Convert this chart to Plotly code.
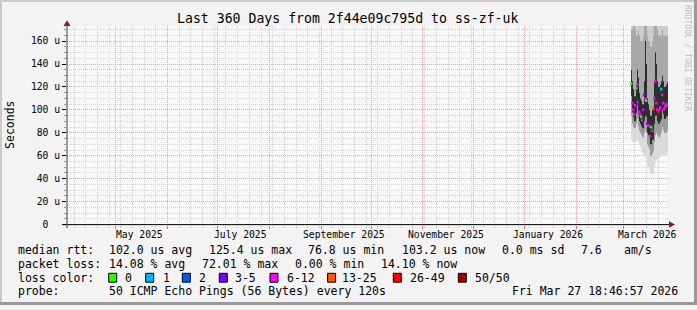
import plotly.graph_objects as go
import pandas as pd

W, H = 697, 310
END = pd.Timestamp('2026-03-27 18:46:57')
START = END - pd.Timedelta(days=360)

# ---- data (values in microseconds) ----
first_time = pd.Timestamp('2026-03-05 16:00')
STEP_S = 51840  # 14.4 h consolidated step
median  = [123, 106, 100, 96, 104, 119, 122, 105, 98, 96, 94, 91, 100, 113, 110, 108, 88, 86, 86, 77,
           85, 82, 101, 110, 125, 106, 100, 98, 100, 102, 118, 113, 106, 101, 103, 105, 104]
loss    = [0, 8, 8, 9, 8, 0, 7, 4, 8, 7, 0, 9, 8, 4, 8, 0, 4, 8, 10, 9,
           0, 10, 15, 8, 9, 9, 8, 30, 8, 9, 1, 8, 8, 9, 8, 7, 8]
ping_lo = [74, 72, 73, 72, 73, 75, 74, 72, 70, 68, 66, 63, 62, 60, 58, 57, 52, 50, 48, 45,
           44, 46, 50, 54, 56, 57, 58, 58, 59, 60, 62, 62, 61, 60, 61, 62, 62]
ping_q1 = [95, 88, 85, 84, 88, 92, 93, 86, 82, 80, 78, 76, 80, 85, 82, 80, 70, 68, 66, 60,
           62, 64, 72, 78, 85, 80, 78, 76, 78, 80, 88, 85, 82, 80, 80, 82, 82]
ping_d1 = [112, 98, 94, 90, 97, 108, 110, 96, 90, 88, 86, 84, 90, 100, 95, 94, 80, 78, 76, 70,
           74, 74, 88, 95, 105, 95, 90, 88, 90, 92, 105, 100, 96, 92, 94, 95, 95]
ping_d2 = [135, 125, 118, 112, 122, 135, 140, 128, 115, 110, 108, 105, 125, 175, 160, 140, 110, 105, 100, 95,
           100, 100, 125, 150, 178, 140, 125, 120, 122, 125, 135, 130, 125, 120, 122, 124, 124]
ping_q2 = [170, 175, 180, 180, 170, 165, 170, 175, 165, 160, 160, 165, 180, 190, 190, 180, 165, 160, 160, 155,
           160, 165, 175, 185, 190, 180, 170, 165, 165, 165, 170, 170, 165, 165, 165, 165, 165]
ping_hi = [240, 240, 240, 240, 240, 230, 230, 240, 230, 230, 230, 230, 240, 250, 250, 240, 230, 230, 230, 220,
           230, 230, 240, 250, 250, 240, 230, 230, 230, 230, 230, 230, 230, 230, 230, 230, 230]

y_ticks = [0, 20, 40, 60, 80, 100, 120, 140, 160]
y_ticktext = ['0\u00a0\u00a0', '20 u', '40 u', '60 u', '80 u', '100 u', '120 u', '140 u', '160 u']
month_labels = ['2025-05-01', '2025-07-01', '2025-09-01', '2025-11-01', '2026-01-01', '2026-03-01']
month_text = ['May 2025', 'July 2025', 'September 2025', 'November 2025', 'January 2026', 'March 2026']

loss_bins = ['0', '1', '2', '3-5', '6-12', '13-25', '26-49', '50/50']
loss_colors = ['#26ff00', '#00b8ff', '#0059ff', '#7e00ff', '#ff00ff', '#ff5500', '#ff0000', '#a10000']
loss_upper = [0, 1, 2, 5, 12, 25, 49, 50]

MONO = 'DejaVu Sans Mono'


def px(x):
    return x / W


def py(y):
    return 1 - y / H


def loss_color(n):
    for up, col in zip(loss_upper, loss_colors):
        if n <= up:
            return col
    return loss_colors[-1]


times = [first_time + pd.Timedelta(seconds=STEP_S * (i + 0.5)) for i in range(len(median))]
wms = STEP_S * 1000

fig = go.Figure()

layers = [
    (ping_lo, ping_q1, '#dadada'),
    (ping_q1, ping_d1, '#9c9c9c'),
    (ping_d1, ping_d2, '#2e2e2e'),
    (ping_d2, ping_q2, '#a8a8a8'),
    (ping_q2, ping_hi, '#cdcdcd'),
]
for lo, hi, col in layers:
    fig.add_trace(go.Bar(
        x=times, base=lo, y=[h - l for l, h in zip(lo, hi)],
        width=[wms] * len(times), marker=dict(color=col, line=dict(width=0)),
        showlegend=False, hoverinfo='skip'))

fig.add_trace(go.Bar(
    x=times, base=[m - 1.2 for m in median], y=[2.4] * len(median),
    width=[wms * 1.6] * len(times),
    marker=dict(color=[loss_color(n) for n in loss], line=dict(width=0)),
    showlegend=False, hoverinfo='skip'))

x0d, x1d = 67, 668
ybot, ytop = 228.3, 26.7

fig.update_layout(
    width=W, height=H, autosize=False,
    margin=dict(l=0, r=0, t=0, b=0),
    paper_bgcolor='#f3f3f3', plot_bgcolor='#f8f8f8',
    barmode='overlay', showlegend=False,
    xaxis=dict(
        type='date', range=[START, END], domain=[px(x0d), px(x1d)],
        showgrid=True, gridcolor='#f2a0a0', griddash='1px,1px', gridwidth=1,
        tick0='2025-05-01', dtick='M1', showticklabels=False,
        ticks='outside', ticklen=3, tickcolor='#e07070', tickwidth=1,
        minor=dict(tick0='2025-04-06', dtick=7 * 86400000, showgrid=True,
                   gridcolor='#d2d2d2', griddash='1px,1px', gridwidth=1,
                   ticks='outside', ticklen=2, tickcolor='#c8c8c8'),
        showline=False, zeroline=False, fixedrange=True,
    ),
    yaxis=dict(
        range=[0, 172.9], domain=[py(ybot), py(ytop)],
        tickvals=y_ticks, ticktext=y_ticktext,
        tickfont=dict(family=MONO, size=9.7, color='#000'),
        showgrid=True, gridcolor='#f2a0a0', griddash='1px,1px', gridwidth=1,
        ticks='outside', ticklen=4, tickcolor='#000', tickwidth=1,
        minor=dict(dtick=5, showgrid=True, gridcolor='#d2d2d2', griddash='1px,1px',
                   gridwidth=1, ticks='outside', ticklen=2, tickcolor='#999'),
        showline=False, zeroline=False, fixedrange=True,
    ),
)

shapes = []
# outer frame shading
shapes.append(dict(type='rect', xref='paper', yref='paper', x0=0, x1=1, y0=py(2), y1=1,
                   fillcolor='#cbcbcb', line=dict(width=0), layer='above'))
shapes.append(dict(type='rect', xref='paper', yref='paper', x0=0, x1=px(2), y0=0, y1=1,
                   fillcolor='#cbcbcb', line=dict(width=0), layer='above'))
shapes.append(dict(type='rect', xref='paper', yref='paper', x0=0, x1=1, y0=0, y1=py(307),
                   fillcolor='#999999', line=dict(width=0), layer='above'))
shapes.append(dict(type='rect', xref='paper', yref='paper', x0=px(694), x1=1, y0=0, y1=1,
                   fillcolor='#999999', line=dict(width=0), layer='above'))
# axes lines
shapes.append(dict(type='line', xref='paper', yref='paper', x0=px(63), x1=px(671),
                   y0=py(ybot), y1=py(ybot), line=dict(color='#000', width=1), layer='above'))
shapes.append(dict(type='line', xref='paper', yref='paper', x0=px(67), x1=px(67),
                   y0=py(232), y1=py(25), line=dict(color='#404040', width=1), layer='above'))
# arrows
shapes.append(dict(type='path', xref='paper', yref='paper',
                   path=f'M {px(669)} {py(225)} L {px(675)} {py(ybot)} L {px(669)} {py(231.6)} Z',
                   fillcolor='#8b1a1a', line=dict(width=0), layer='above'))
shapes.append(dict(type='path', xref='paper', yref='paper',
                   path=f'M {px(63.5)} {py(26.5)} L {px(67)} {py(20.5)} L {px(70.5)} {py(26.5)} Z',
                   fillcolor='#8b1a1a', line=dict(width=0), layer='above'))

annotations = []


def txt(x, y, s, size=11.5, anchor='left', color='#000', angle=0, family=MONO):
    annotations.append(dict(x=px(x), y=py(y), xref='paper', yref='paper', text=s,
                            showarrow=False, xanchor=anchor, yanchor='middle', textangle=angle,
                            font=dict(family=family, size=size, color=color)))


txt(347.5, 19.3, 'Last 360 Days from 2f44e09c795d to ss-zf-uk', size=13.2, anchor='center')
txt(10, 127, 'Seconds', size=11.5, anchor='center', angle=-90)
txt(688, 59, 'RRDTOOL / TOBI OETIKER', size=8, anchor='center', angle=90, color='#c0c0c0')

for m, s in zip(month_labels, month_text):
    annotations.append(dict(x=pd.Timestamp(m) + pd.Timedelta(days=14), y=py(238.3),
                            xref='x', yref='paper', text=s, showarrow=False,
                            xanchor='center', yanchor='middle',
                            font=dict(family=MONO, size=9.7, color='#000')))

L1, L2, L3, L4 = 254.3, 268.3, 282.3, 296.0
txt(16, L1, 'median rtt:')
for x, s in [(107.3, '102.0 us avg'), (207.3, '125.4 us max'), (306, '76.8 us min'),
             (400, '103.2 us now'), (500, '0.0 ms sd'), (579.3, '7.6'), (621.7, 'am/s')]:
    txt(x, L1, s)
txt(16, L2, 'packet loss:')
for x, s in [(107.3, '14.08 % avg'), (200, '72.01 % max'), (292.7, '0.00 % min'),
             (379.3, '14.10 % now')]:
    txt(x, L2, s)
txt(16, L3, 'loss color:')
box_x = [108.7, 145.7, 182.3, 219.3, 270, 327.6, 393.3, 458.3]
lab_x = [123.3, 160.7, 197.3, 233.3, 285, 340, 408.3, 473.3]
for bx, lx, lab, col in zip(box_x, lab_x, loss_bins, loss_colors):
    shapes.append(dict(type='rect', xref='paper', yref='paper', x0=px(bx), x1=px(bx + 8),
                       y0=py(L3 + 4.5), y1=py(L3 - 4.5), fillcolor=col,
                       line=dict(color='#000', width=1), layer='above'))
    txt(lx, L3, lab)
txt(16, L4, 'probe:')
txt(107.3, L4, '50 ICMP Echo Pings (56 Bytes) every 120s')
txt(680, L4, 'Fri Mar 27 18:46:57 2026', anchor='right')

fig.update_layout(shapes=shapes, annotations=annotations)
fig.write_html('out.html')
